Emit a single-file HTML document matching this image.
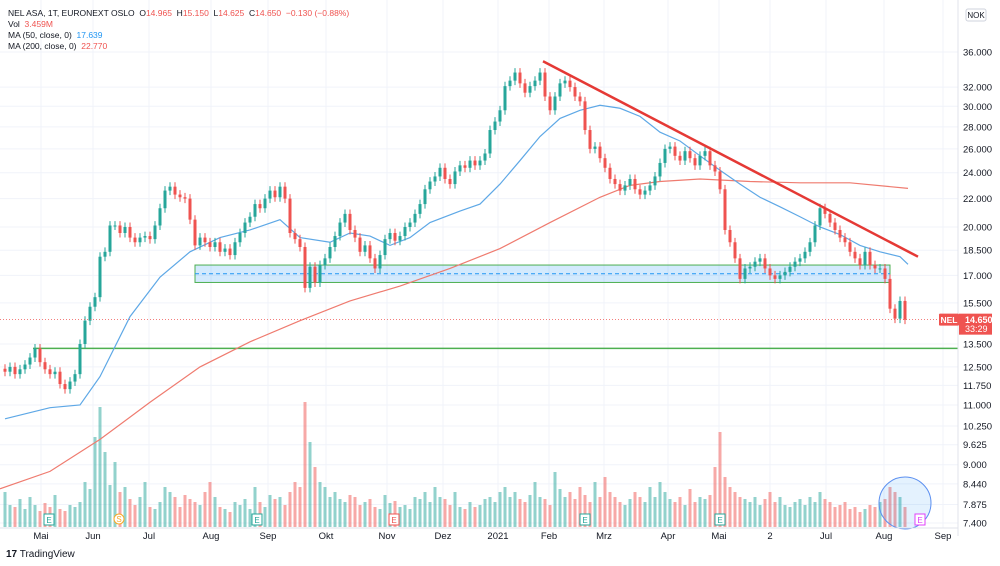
<!DOCTYPE html>
<html><head><meta charset="utf-8"><style>
html,body{margin:0;padding:0;background:#fff;}
svg{display:block;font-family:"Liberation Sans",sans-serif;}
</style></head><body>
<svg id="c" width="1000" height="566" viewBox="0 0 1000 566"></svg>
<script>
const closes=[12.3,12.5,12.2,12.4,12.6,12.9,13.3,12.7,12.4,12.2,12.3,11.8,11.6,11.9,12.2,13.5,14.6,15.3,15.8,18.1,
18.4,20.1,20.1,19.6,20.0,19.3,19.0,19.3,19.4,19.2,20.1,21.3,22.6,22.9,22.3,22.1,22.0,20.5,18.8,19.3,
19.0,18.7,19.0,18.4,18.6,18.2,19.0,19.6,20.3,20.7,21.6,21.3,22.0,22.6,22.1,22.9,22.0,19.6,19.2,18.7,
16.3,17.5,16.6,17.6,18.0,18.7,19.4,20.3,20.9,19.8,19.3,18.4,18.8,18.0,17.4,18.2,19.2,19.6,19.1,19.4,
20.0,20.3,20.9,21.6,22.7,23.3,23.7,24.4,23.5,23.1,24.1,24.6,24.4,25.0,24.6,25.0,25.6,27.7,28.5,29.6,
32.1,32.7,33.6,32.4,31.4,32.1,32.7,33.6,31.0,29.6,31.0,32.4,32.7,32.0,31.0,30.5,27.7,26.0,26.2,25.2,
24.4,23.5,23.1,22.6,23.0,23.5,22.7,22.3,22.6,23.0,23.7,24.8,26.0,26.2,25.4,25.0,25.8,25.2,24.6,25.4,
25.8,24.6,24.1,22.7,19.8,19.0,18.0,16.8,17.4,17.5,17.8,18.0,17.4,17.0,16.8,17.0,17.2,17.5,17.8,18.0,
18.4,19.0,20.1,21.3,20.9,20.3,19.8,19.3,19.0,18.4,18.0,17.6,18.4,17.6,17.4,17.4,16.8,15.2,14.7,15.6,
14.65];
const volumes=[35,22,20,28,18,30,22,16,24,20,32,18,16,22,20,25,45,38,90,120,
75,42,65,35,40,28,22,30,45,20,18,25,40,35,30,20,32,28,25,22,
35,45,30,20,18,15,25,22,28,18,40,25,20,32,28,30,22,35,45,40,
125,85,60,45,40,30,35,28,25,32,30,22,25,28,20,18,32,24,26,20,
22,18,30,28,35,25,40,30,28,22,35,20,18,25,20,22,28,30,25,35,
40,30,35,28,25,32,45,30,28,22,55,38,30,35,28,40,32,25,45,30,
50,35,30,25,22,28,35,30,25,40,30,45,35,28,25,30,22,38,25,30,
28,32,60,95,50,40,35,30,28,25,30,22,28,35,25,30,22,20,25,28,
22,30,25,35,28,25,20,22,25,18,20,15,18,22,20,25,28,40,35,30,20];
const ma50Idx=[0,9,15,19,25,31,37,43,49,55,59,65,69,73,77,81,85,91,95,99,103,107,111,115,119,123,127,131,135,139,143,147,151,155,159,163,167,171,175,179,180.6];
const ma50Val=[10.5,10.9,11.0,12.1,14.8,16.9,18.4,19.3,19.8,20.5,19.3,19.0,19.6,19.4,18.8,19.3,20.3,21.1,21.6,23.1,25.0,27.1,28.8,29.6,30.1,29.8,29.0,27.5,26.7,25.4,24.2,23.1,22.1,21.4,20.7,20.0,19.5,18.8,18.4,18.1,17.64];
const ma200Idx=[-1,9,19,29,39,49,59,69,79,89,99,109,119,125,131,139,149,159,169,180.6];
const ma200Val=[8.3,8.8,9.8,11.1,12.5,13.6,14.6,15.6,16.4,17.4,18.6,20.3,22.1,23.0,23.3,23.5,23.3,23.2,23.2,22.77];
const yTicks=[36,32,30,28,26,24,22,20,18.5,17,15.5,13.5,12.5,11.75,11,10.25,9.625,9,8.44,7.875,7.4];
const monthLabels=["Mai","Jun","Jul","Aug","Sep","Okt","Nov","Dez","2021","Feb","Mrz","Apr","Mai","2","Jul","Aug","Sep"];
const monthIdx=[7.2,17.6,28.8,41.2,52.6,64.2,76.4,87.6,98.6,108.8,119.8,132.6,142.8,153,164.2,175.8,187.6];
const trendIdx=[107.6,182.6], trendVal=[34.9,18.1];
const zoneIdx=[38,177], zoneVal=[17.6,16.6];
const supportIdx=5.6, supportVal=13.3;

const NS="http://www.w3.org/2000/svg", svg=document.getElementById('c');
const X=i=>5+i*5;
const Y=v=>52+(Math.log(36)-Math.log(v))*297.7;
function el(t,a,p){const e=document.createElementNS(NS,t);for(const k in a)e.setAttribute(k,a[k]);(p||svg).appendChild(e);return e;}
const grid=el('g',{});


yTicks.forEach(v=>el('line',{x1:0,x2:958,y1:Y(v),y2:Y(v),stroke:'#f0f3fa'},grid));
monthIdx.forEach(i=>el('line',{x1:X(i),x2:X(i),y1:0,y2:528,stroke:'#f0f3fa'},grid));
// volume
const vg=el('g',{});


volumes.forEach((v,i)=>{const up=i==0||closes[i]>=closes[i-1];
 const r=el('rect',{x:X(i)-1.5,y:527-v,width:3,height:v,fill:up?'rgba(38,166,154,0.5)':'rgba(239,83,80,0.5)'},vg);
 
 });
// zone
const zg=el('g',{});


el('rect',{x:X(zoneIdx[0]),y:Y(zoneVal[0]),width:X(zoneIdx[1])-X(zoneIdx[0]),height:Y(zoneVal[1])-Y(zoneVal[0]),fill:'rgba(33,150,243,0.2)',stroke:'#4caf50','stroke-width':1},zg);
const zm=(Y(zoneVal[0])+Y(zoneVal[1]))/2;
el('line',{x1:X(zoneIdx[0]),x2:X(zoneIdx[1]),y1:zm,y2:zm,stroke:'#2196f3','stroke-dasharray':'4 3'},zg);
const sl=el('line',{x1:X(supportIdx),x2:958,y1:Y(supportVal),y2:Y(supportVal),stroke:'#4caf50','stroke-width':1.5});


// MAs
function poly(ix,vals,col,name){const p=el('polyline',{points:ix.map((i,k)=>X(i)+','+Y(vals[k])).join(' '),fill:'none',stroke:col,'stroke-width':1.2});
 
 }
poly(ma200Idx,ma200Val,'#ef7b6f','ma-200-line');
poly(ma50Idx,ma50Val,'#5ea8e6','ma-50-line');
// candles
const cg=el('g',{});


closes.forEach((c,i)=>{const o=i==0?c*1.01:closes[i-1];const up=c>=o;const col=up?'#26a69a':'#ef5350';
 const hi=Math.max(o,c)*1.015, lo=Math.min(o,c)*0.985;
 const g=el('g',{},cg);
 
 
 el('line',{x1:X(i),x2:X(i),y1:Y(hi),y2:Y(lo),stroke:col,'stroke-width':1},g);
 const t=Y(Math.max(o,c)),b=Y(Math.min(o,c));
 el('rect',{x:X(i)-1.5,y:t,width:3,height:Math.max(1,b-t),fill:col},g);});
// trend line
const tl=el('line',{x1:X(trendIdx[0]),y1:Y(trendVal[0]),x2:X(trendIdx[1]),y2:Y(trendVal[1]),stroke:'#e53935','stroke-width':2.5});


// last price line
const last=closes[closes.length-1];
const pl=el('line',{x1:0,x2:958,y1:Y(last),y2:Y(last),stroke:'#ef5350','stroke-dasharray':'1 2','stroke-width':0.8});


// circle
const ci=el('circle',{cx:905,cy:503,r:26,fill:'rgba(33,150,243,0.12)',stroke:'#5b8ff0','stroke-width':1});


// event markers
[[49,'E','#26a69a'],[257,'E','#26a69a'],[394,'E','#ef5350'],[585,'E','#26a69a'],[720,'E','#26a69a'],[920,'E','#e040fb']].forEach(m=>{
 const g=el('g',{});
 
 
 el('rect',{x:m[0]-5,y:514,width:10,height:11,fill:'#fff',stroke:m[2],'stroke-width':1},g);
 const t=el('text',{x:m[0],y:523,'font-size':8,'text-anchor':'middle',fill:m[2]},g);t.textContent=m[1];});
{const g=el('g',{});
 
 
 el('circle',{cx:119,cy:519,r:5,fill:'#fff',stroke:'#f9a825'},g);
 const t=el('text',{x:119,y:522,'font-size':8,'text-anchor':'middle',fill:'#f9a825'},g);t.textContent='S';}
// axis
const ax=el('g',{});


el('line',{x1:958,x2:958,y1:0,y2:536,stroke:'#e0e3eb'},ax);
yTicks.forEach(v=>{const t=el('text',{x:963,y:Y(v)+3.5,'font-size':9.5,fill:'#131722'},ax);
 
 
 t.textContent=v.toFixed(3).replace(/^(\d+)\.(\d+)$/,(m,a,b)=>a+'.'+b);});
const xa=el('g',{});


el('line',{x1:0,x2:958,y1:528,y2:528,stroke:'#e0e3eb'},xa);
monthLabels.forEach((m,k)=>{const t=el('text',{x:X(monthIdx[k]),y:539,'font-size':9.5,'text-anchor':'middle',fill:'#131722'},xa);
 
 
 t.textContent=m;});
// price labels
const ly=Y(last);
{const g=el('g',{});
 
 
 el('rect',{x:939,y:ly-6,width:20,height:12,fill:'#ef5350',rx:1},g);
 let t=el('text',{x:949,y:ly+3.5,'font-size':8.5,'text-anchor':'middle',fill:'#fff','font-weight':'bold'},g);t.textContent='NEL';
 el('rect',{x:959,y:ly-6,width:33,height:21,fill:'#ef5350'},g);
 t=el('text',{x:965,y:ly+3.5,'font-size':9,fill:'#fff','font-weight':'bold'},g);t.textContent=last.toFixed(3);
 t=el('text',{x:965,y:ly+12.5,'font-size':9,fill:'#fff'},g);t.textContent='33:29';}
{const g=el('g',{});
 
 
 el('rect',{x:966,y:9,width:20,height:12,fill:'#fff',stroke:'#cfd3dc',rx:2},g);
 const t=el('text',{x:976,y:18,'font-size':8,'text-anchor':'middle',fill:'#131722'},g);t.textContent='NOK';}
</script>
<div style="position:absolute;left:8px;top:8px;font:8.5px 'Liberation Sans',sans-serif;color:#131722;line-height:11px">
<div>NEL ASA, 1T, EURONEXT OSLO &nbsp;O<span style="color:#ef5350">14.965</span> &nbsp;H<span style="color:#ef5350">15.150</span> &nbsp;L<span style="color:#ef5350">14.625</span> &nbsp;C<span style="color:#ef5350">14.650 &nbsp;−0.130 (−0.88%)</span></div>
<div>Vol &nbsp;<span style="color:#ef5350">3.459M</span></div>
<div>MA (50, close, 0) &nbsp;<span style="color:#2196f3">17.639</span></div>
<div>MA (200, close, 0) &nbsp;<span style="color:#ef5350">22.770</span></div>
</div>
<div style="position:absolute;left:6px;top:549px;font:10px 'Liberation Sans',sans-serif;color:#131722"><b>17</b> TradingView</div>
</body></html>
